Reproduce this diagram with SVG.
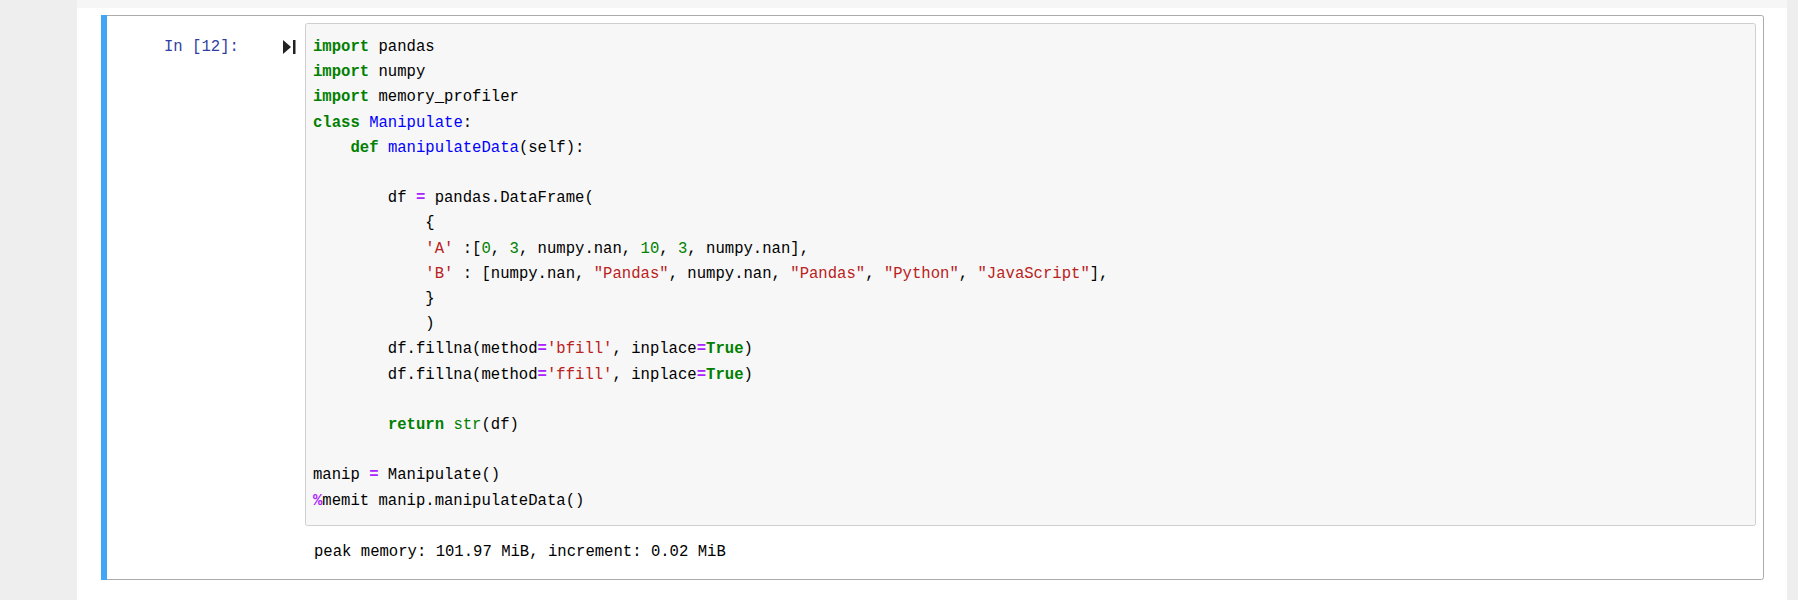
<svg xmlns="http://www.w3.org/2000/svg" width="1798" height="600" viewBox="0 0 1798 600">
<style>
.k{fill:#008000;font-weight:bold}
.n{fill:#0000ff}
.o{fill:#aa22ff;font-weight:bold}
.s{fill:#ba2121}
.m{fill:#008000}
.b{fill:#008000}
</style>
<rect width="1798" height="600" fill="#eeeeee"/>
<rect x="77" y="0" width="1710" height="600" fill="#ffffff"/>
<rect x="77" y="0" width="1710" height="8" fill="#f6f6f6"/>
<g id="cell">
<rect x="101.5" y="15.5" width="1662" height="564" fill="#fff" stroke="#ababab" rx="2"/>
<rect x="101" y="15" width="6" height="565" fill="#42a5f5"/>
</g>
<g id="prompt">
<text x="164" y="51" font-family="Liberation Mono,monospace" font-size="15.6" fill="#303f9f" xml:space="preserve">In [12]:</text>
<path d="M283 40 L291 47 L283 54 Z" fill="#222"/>
<rect x="293" y="40" width="2.5" height="14" fill="#222"/>
</g>
<g id="code">
<rect x="305.5" y="23.5" width="1450" height="502" fill="#f7f7f7" stroke="#cfcfcf" rx="2"/>
<text font-family="Liberation Mono,monospace" font-size="15.6" fill="#000" xml:space="preserve"><tspan x="313" y="51"><tspan class="k">import</tspan> pandas</tspan><tspan x="313" y="76.2"><tspan class="k">import</tspan> numpy</tspan><tspan x="313" y="101.4"><tspan class="k">import</tspan> memory_profiler</tspan><tspan x="313" y="126.6"><tspan class="k">class</tspan> <tspan class="n">Manipulate</tspan>:</tspan><tspan x="313" y="151.8">    <tspan class="k">def</tspan> <tspan class="n">manipulateData</tspan>(self):</tspan><tspan x="313" y="202.2">        df <tspan class="o">=</tspan> pandas.DataFrame(</tspan><tspan x="313" y="227.4">            {</tspan><tspan x="313" y="252.6">            <tspan class="s">'A'</tspan> :[<tspan class="m">0</tspan>, <tspan class="m">3</tspan>, numpy.nan, <tspan class="m">10</tspan>, <tspan class="m">3</tspan>, numpy.nan],</tspan><tspan x="313" y="277.8">            <tspan class="s">'B'</tspan> : [numpy.nan, <tspan class="s">"Pandas"</tspan>, numpy.nan, <tspan class="s">"Pandas"</tspan>, <tspan class="s">"Python"</tspan>, <tspan class="s">"JavaScript"</tspan>],</tspan><tspan x="313" y="303">            }</tspan><tspan x="313" y="328.2">            )</tspan><tspan x="313" y="353.4">        df.fillna(method<tspan class="o">=</tspan><tspan class="s">'bfill'</tspan>, inplace<tspan class="o">=</tspan><tspan class="k">True</tspan>)</tspan><tspan x="313" y="378.6">        df.fillna(method<tspan class="o">=</tspan><tspan class="s">'ffill'</tspan>, inplace<tspan class="o">=</tspan><tspan class="k">True</tspan>)</tspan><tspan x="313" y="429">        <tspan class="k">return</tspan> <tspan class="b">str</tspan>(df)</tspan><tspan x="313" y="479.4">manip <tspan class="o">=</tspan> Manipulate()</tspan><tspan x="313" y="504.6"><tspan class="o">%</tspan>memit manip.manipulateData()</tspan></text>
</g>
<g id="output">
<text font-family="Liberation Mono,monospace" font-size="15.6" x="314" y="556" xml:space="preserve">peak memory: 101.97 MiB, increment: 0.02 MiB</text>
</g>
</svg>
